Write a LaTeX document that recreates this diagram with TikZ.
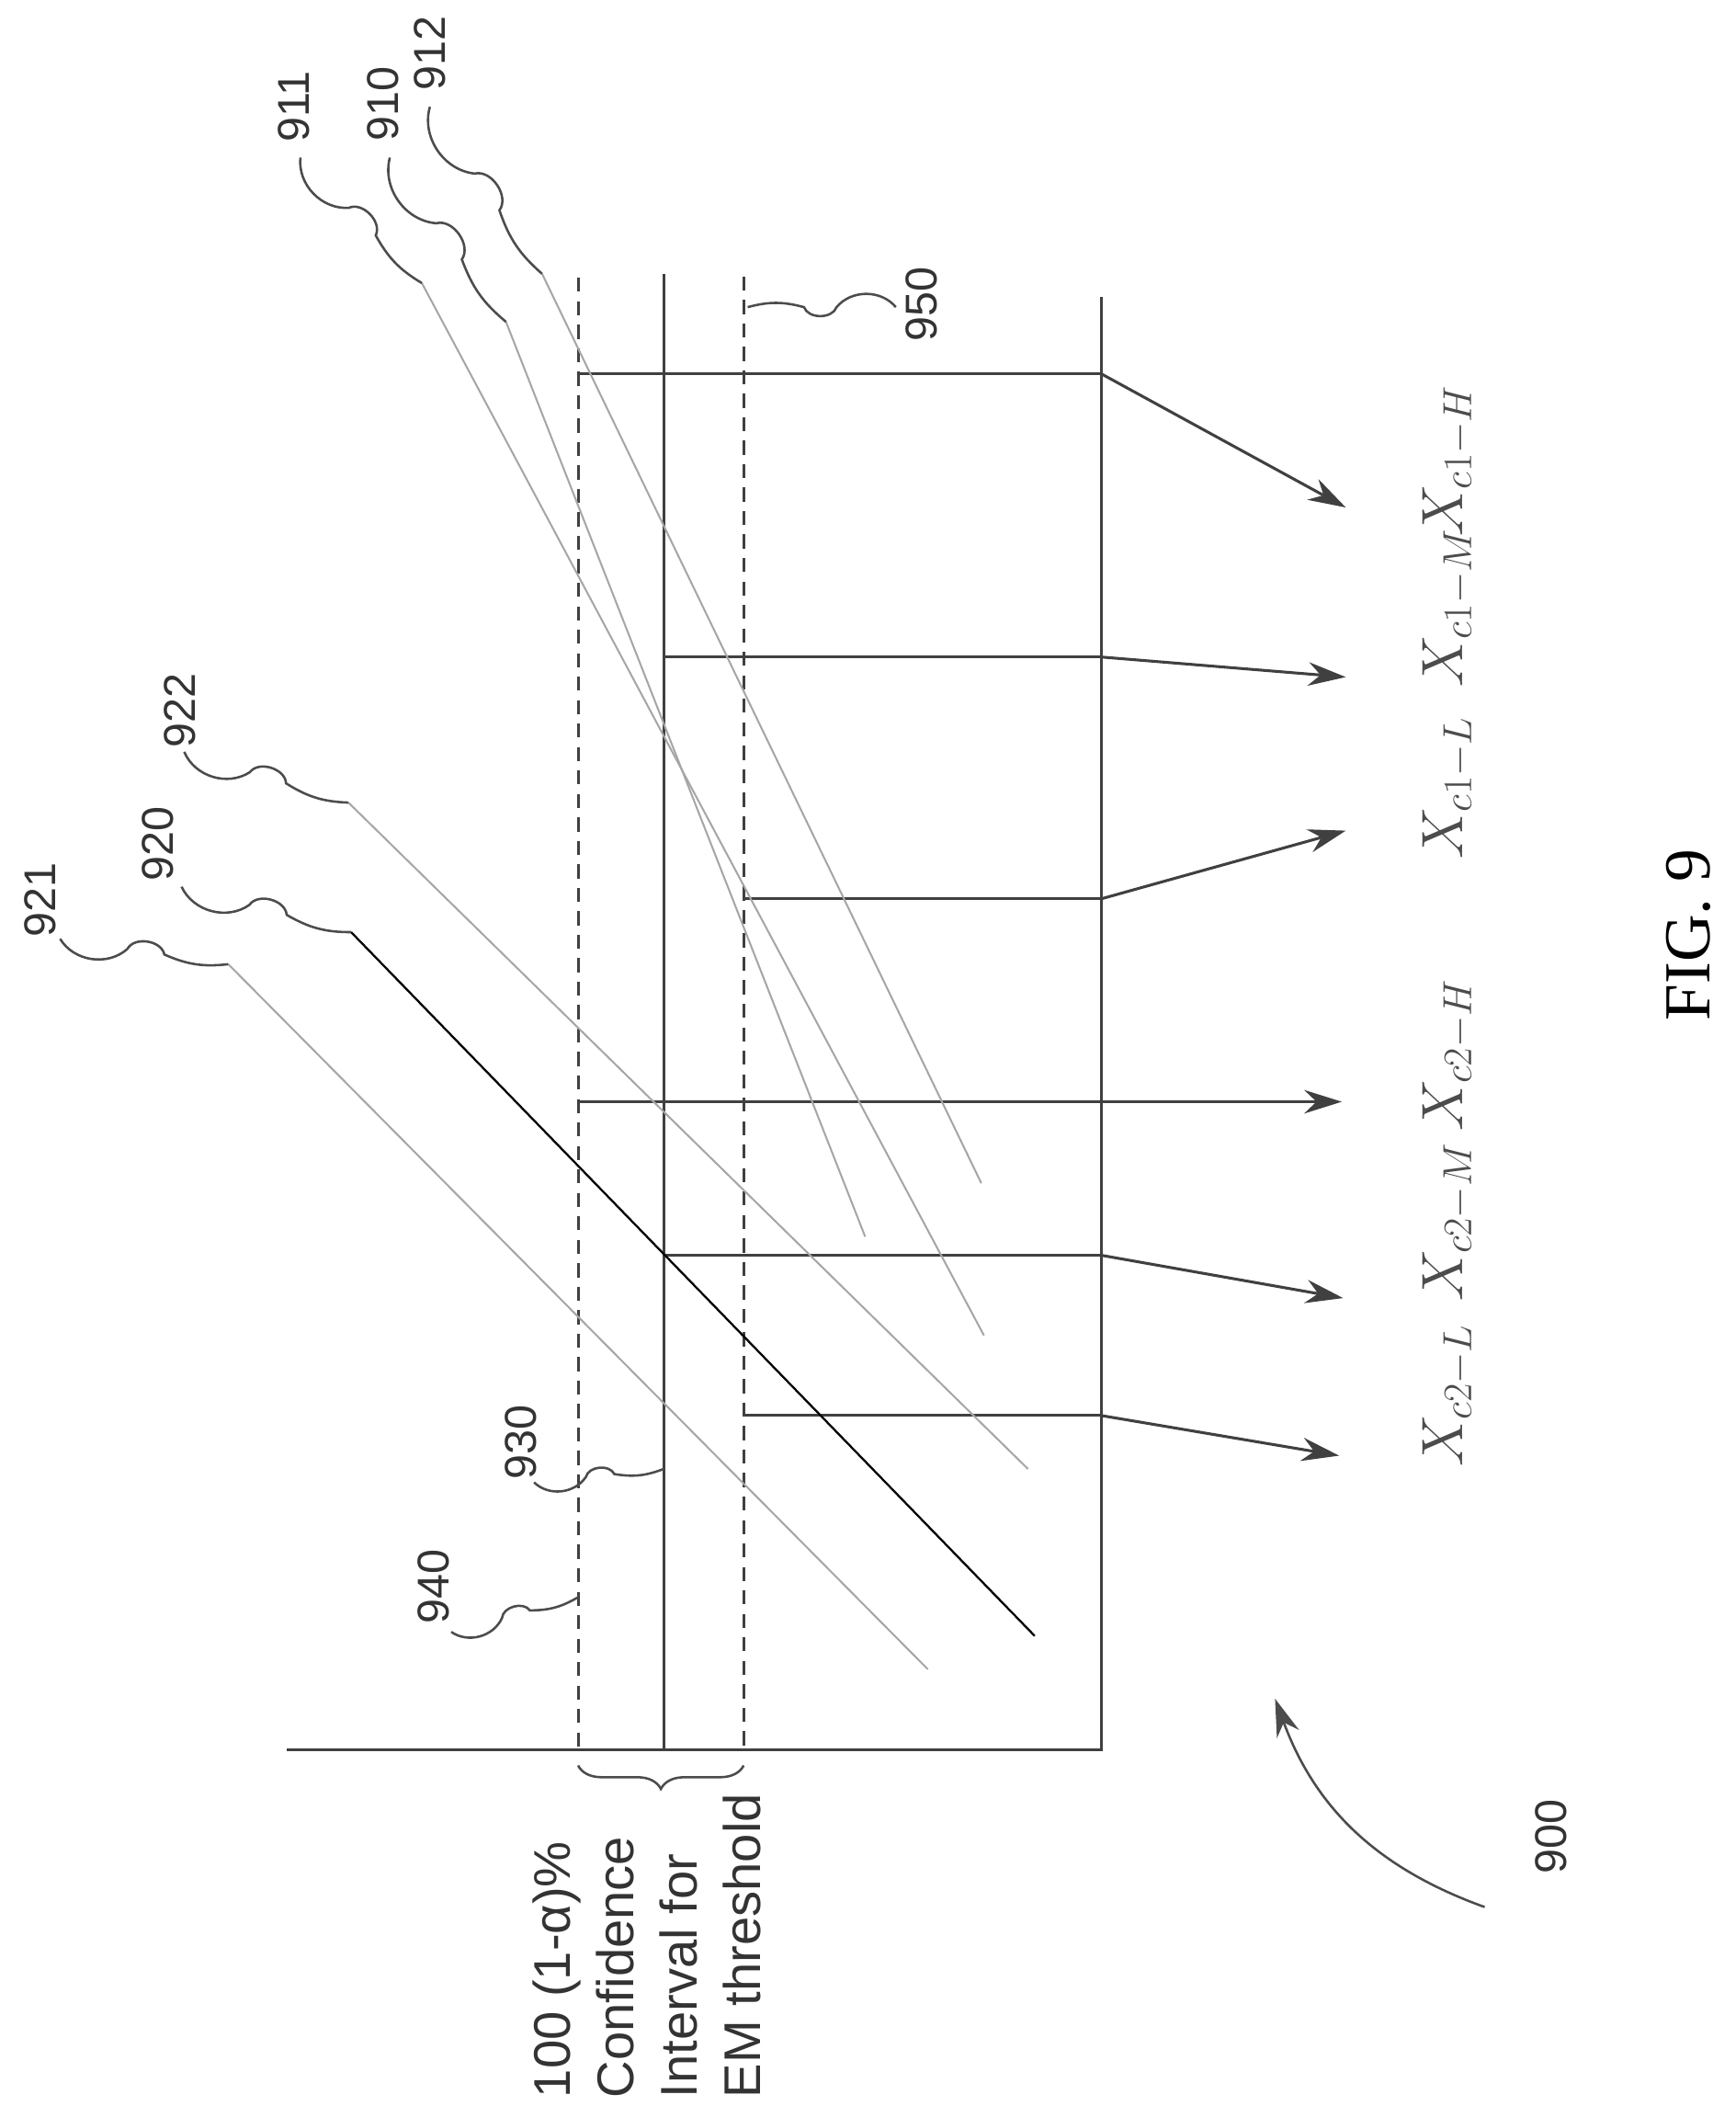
\documentclass[tikz,border=0pt]{standalone}
\usepackage{fontspec}
\setmainfont{Liberation Sans}
\newfontfamily\figfont{Liberation Serif}
\usetikzlibrary{positioning,calc,arrows.meta,decorations.pathreplacing}

\newcommand\wiggle[2]{\draw[leader] (#1) to[bend right=50] ($(#1)!.4!(#2)$) to[bend left=70] ($(#1)!.62!(#2)$) to[bend right=15] (#2);}

\begin{document}
\begin{tikzpicture}[x=0.02cm,y=-0.02cm,
    bar/.style={draw=black!75,line width=1.2pt},
    dashbar/.style={bar,dash pattern=on 6pt off 4pt},
    trend/.style={draw=black!35,line width=0.8pt},
    leader/.style={draw=black!70,line width=1pt},
    outarrow/.style={bar,-{Stealth[length=16pt,width=10pt]}},
    num/.style={rotate=90,font=\fontsize{19}{21}\selectfont,text=black!80},
    xlab/.style={rotate=90,font=\fontsize{26}{28}\selectfont,text=black!70}
    ]
\useasboundingbox (0,0) rectangle (1300,1577);
% axis and thresholds
\coordinate (ax0) at (215,1310);
\coordinate (ax1) at (825,1310);
\draw[bar] (ax0) -- (ax1) -- (825,222);
\draw[dashbar] (433,208) -- (433,1310);
\draw[bar] (497,205) -- (497,1310);
\draw[dashbar] (557,207) -- (557,1310);
% bars
\draw[bar] (433,280) -- (825,280);
\draw[bar] (497,492) -- (825,492);
\draw[bar] (557,673) -- (825,673);
\draw[bar] (433,825) -- (825,825);
\draw[bar] (497,940) -- (825,940);
\draw[bar] (557,1060) -- (825,1060);
% trend lines
\coordinate (s911) at (316,212); \coordinate (s910) at (379,241); \coordinate (s912) at (406,205);
\coordinate (s921) at (171,722); \coordinate (s920) at (263,698); \coordinate (s922) at (261,601);
\draw[trend] (s911) -- (737,1000);
\draw[trend] (s910) -- (648,926);
\draw[trend] (s912) -- (735,886);
\draw[trend] (s921) -- (695,1250);
\draw[black,line width=0.9pt] (s920) -- (775,1225);
\draw[trend] (s922) -- (770,1100);
% outputs
\node[xlab] (c1H) at (1085,345) {$X_{c1-H}$};
\node[xlab] (c1M) at (1085,455) {$X_{c1-M}$};
\node[xlab] (c1L) at (1085,590) {$X_{c1-L}$};
\node[xlab] (c2H) at (1085,790) {$X_{c2-H}$};
\node[xlab] (c2M) at (1085,915) {$X_{c2-M}$};
\node[xlab] (c2L) at (1085,1045) {$X_{c2-L}$};
\draw[outarrow] (825,280) -- (1008,380);
\draw[outarrow] (825,492) -- (1008,507);
\draw[outarrow] (825,673) -- (1008,622);
\draw[outarrow] (825,825) -- (1005,825);
\draw[outarrow] (825,940) -- (1006,972);
\draw[outarrow] (825,1060) -- (1003,1090);
% reference labels
\node[num] (n911) at (220,80) {911};
\node[num] (n910) at (287,78) {910};
\node[num] (n912) at (322,40) {912};
\node[num] (n950) at (690,228) {950};
\node[num] (n922) at (135,532) {922};
\node[num] (n920) at (118,632) {920};
\node[num] (n921) at (30,674) {921};
\node[num] (n940) at (325,1188) {940};
\node[num] (n930) at (390,1080) {930};
\node[num] (n900) at (1162,1375) {900};
\coordinate (w911) at (225,118); \wiggle{w911}{s911}
\coordinate (w910) at (292,118); \wiggle{w910}{s910}
\coordinate (w912) at (322,80); \wiggle{w912}{s912}
\coordinate (w922) at (138,563); \wiggle{w922}{s922}
\coordinate (w920) at (136,664); \wiggle{w920}{s920}
\coordinate (w921) at (45,703); \wiggle{w921}{s921}
\coordinate (w950) at (671,230); \coordinate (e950) at (560,230); \wiggle{w950}{e950}
\coordinate (w940) at (338,1222); \coordinate (e940) at (433,1196); \wiggle{w940}{e940}
\coordinate (w930) at (400,1110); \coordinate (e930) at (497,1100); \wiggle{w930}{e930}
\draw[leader,-{Stealth[length=16pt,width=10pt]}] (1112,1428) to[bend left=25] (955,1272);
% confidence interval
\draw[leader,decorate,decoration={brace,mirror,amplitude=10pt}] (433,1322) -- (557,1322);
\node[rotate=90,anchor=north west,align=left,font=\fontsize{22}{27}\selectfont,text=black!80] (ci)
  at (393,1577) {100 (1-α)\%\\Confidence\\Interval for\\EM threshold};
\node[rotate=90,font=\figfont\fontsize{28}{30}\selectfont] (fig) at (1265,700) {FIG. 9};
\end{tikzpicture}
\end{document}
